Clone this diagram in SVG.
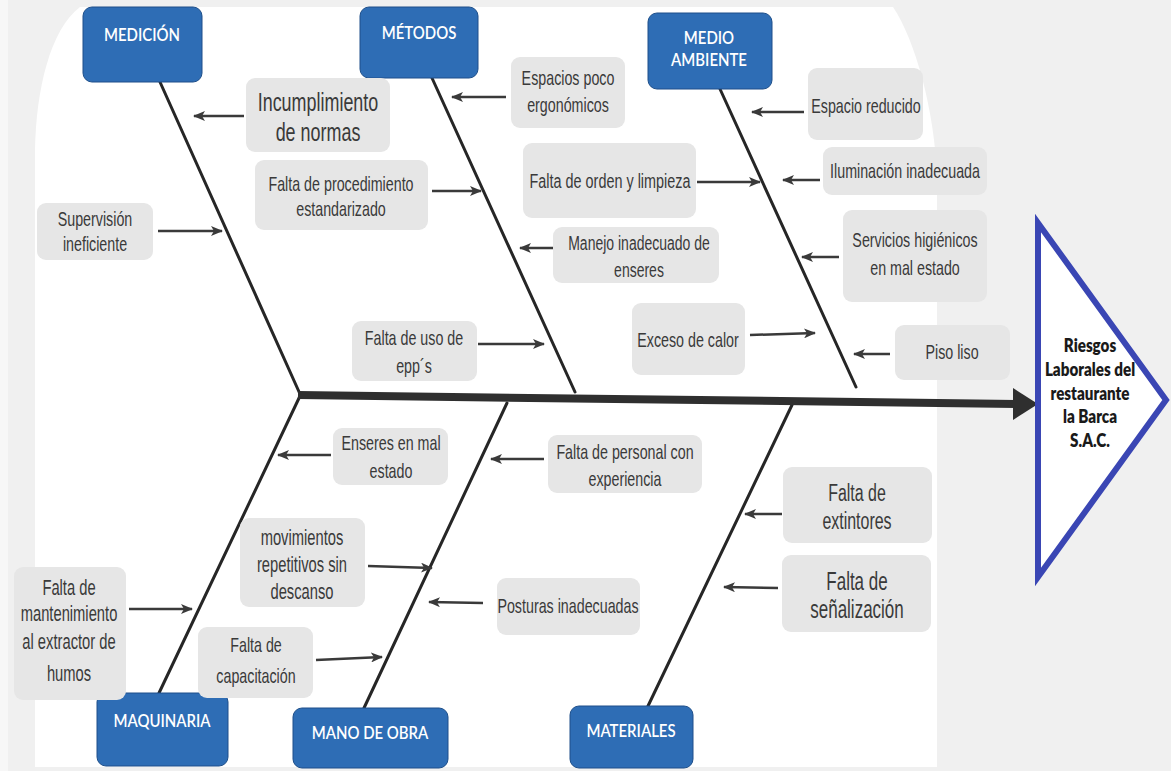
<svg xmlns="http://www.w3.org/2000/svg" width="1171" height="771" viewBox="0 0 1171 771">
<style>
.bg{fill:#f0f0f0}
.cat rect{fill:#2e6db5;stroke:#1e4f8a;stroke-width:1}
.cat text{font-family:Lato,"Open Sans","Liberation Sans",sans-serif;font-weight:600;font-size:18px;fill:#fff;text-anchor:middle}
.cz rect{fill:#e6e6e6}
.cz text{font-family:"Liberation Sans",Arial,sans-serif;font-size:21px;fill:#3a3a3a;text-anchor:middle}
.bone{stroke:#262626;stroke-width:3;fill:none;stroke-linecap:round}
.arr{stroke:#3a3a3a;stroke-width:2.5;fill:none;marker-end:url(#ah)}
.eff text{font-family:Lato,"Open Sans",sans-serif;font-weight:800;font-size:19px;fill:#1a1a1a;text-anchor:middle}
</style>
<defs>
<marker id="ah" markerUnits="userSpaceOnUse" markerWidth="12" markerHeight="10" viewBox="0 0 12 10" refX="11" refY="5" orient="auto">
<path d="M0,0 L12,5 L0,10 L3,5 Z" fill="#3a3a3a"/>
</marker>
</defs>
<rect class="bg" x="0" y="0" width="1171" height="771"/>
<rect x="0" y="0" width="8" height="771" fill="#f7f7f7"/>
<path d="M80 7 L893 7 C915 40 935 110 937 180 L937 767 L35 767 L35 150 C36 90 50 30 80 7 Z" fill="#ffffff"/>

<g id="connectors">
<line class="bone" x1="160" y1="82" x2="300" y2="394"/>
<line class="bone" x1="300" y1="396" x2="159" y2="693"/>
<line class="bone" x1="432" y1="78" x2="575" y2="392"/>
<line class="bone" x1="507" y1="403" x2="364" y2="708"/>
<line class="bone" x1="720" y1="89" x2="856" y2="387"/>
<line class="bone" x1="792" y1="405" x2="648" y2="706"/>
<line x1="298" y1="395" x2="1016" y2="404" stroke="#2f2f2f" stroke-width="8"/>
<polygon points="1013,388 1038,404 1013,420" fill="#2f2f2f"/>
<line class="arr" x1="244" y1="116" x2="194" y2="116"/>
<line class="arr" x1="158" y1="231" x2="222" y2="231"/>
<line class="arr" x1="432" y1="191" x2="481" y2="191"/>
<line class="arr" x1="506" y1="97" x2="452" y2="97"/>
<line class="arr" x1="697" y1="182" x2="760" y2="182"/>
<line class="arr" x1="557" y1="248" x2="520" y2="248"/>
<line class="arr" x1="478" y1="344" x2="544" y2="344"/>
<line class="arr" x1="750" y1="335" x2="815" y2="333"/>
<line class="arr" x1="804" y1="112" x2="752" y2="112"/>
<line class="arr" x1="820" y1="180" x2="783" y2="180"/>
<line class="arr" x1="839" y1="257" x2="802" y2="257"/>
<line class="arr" x1="890" y1="354" x2="854" y2="354"/>
<line class="arr" x1="331" y1="455" x2="278" y2="455"/>
<line class="arr" x1="544" y1="459" x2="491" y2="459"/>
<line class="arr" x1="368" y1="566" x2="432" y2="568"/>
<line class="arr" x1="483" y1="603" x2="429" y2="602"/>
<line class="arr" x1="129" y1="609" x2="192" y2="609"/>
<line class="arr" x1="316" y1="660" x2="382" y2="657"/>
<line class="arr" x1="782" y1="514" x2="745" y2="514"/>
<line class="arr" x1="778" y1="588" x2="724" y2="587"/>
</g>

<g id="medicion" class="cat"><rect x="83" y="7" width="119" height="75" rx="9"/><text transform="matrix(.83 0 0 1 142 0)" y="41">MEDICIÓN</text></g>
<g id="metodos" class="cat"><rect x="360" y="7" width="118" height="71" rx="9"/><text transform="matrix(.83 0 0 1 419 0)" y="39">MÉTODOS</text></g>
<g id="medio-ambiente" class="cat"><rect x="648" y="13" width="124" height="76" rx="9"/><text transform="matrix(.83 0 0 1 709 0)" y="44">MEDIO</text><text transform="matrix(.83 0 0 1 709 0)" y="66">AMBIENTE</text></g>
<g id="maquinaria" class="cat"><rect x="97" y="693" width="131" height="73" rx="9"/><text transform="matrix(.83 0 0 1 162 0)" y="727">MAQUINARIA</text></g>
<g id="mano-obra" class="cat"><rect x="293" y="708" width="155" height="60" rx="9"/><text transform="matrix(.83 0 0 1 370 0)" y="739">MANO DE OBRA</text></g>
<g id="materiales" class="cat"><rect x="570" y="706" width="123" height="62" rx="9"/><text transform="matrix(.83 0 0 1 631 0)" y="737">MATERIALES</text></g>

<g id="c-incumplimiento" class="cz"><rect x="246" y="78" width="144" height="74" rx="9"/><text style="font-size:26px" transform="matrix(.69 0 0 1 318 0)" y="111">Incumplimiento</text><text style="font-size:26px" transform="matrix(.69 0 0 1 318 0)" y="141">de normas</text></g>
<g id="c-supervision" class="cz"><rect x="37" y="203" width="116" height="57" rx="9"/><text transform="matrix(.68 0 0 1 95 0)" y="226">Supervisión</text><text transform="matrix(.68 0 0 1 95 0)" y="251">ineficiente</text></g>
<g id="c-procedimiento" class="cz"><rect x="255" y="160" width="173" height="70" rx="9"/><text transform="matrix(.68 0 0 1 341 0)" y="191">Falta de procedimiento</text><text transform="matrix(.68 0 0 1 341 0)" y="216">estandarizado</text></g>
<g id="c-espacios" class="cz"><rect x="511" y="57" width="114" height="71" rx="9"/><text transform="matrix(.68 0 0 1 568 0)" y="85">Espacios poco</text><text transform="matrix(.68 0 0 1 568 0)" y="112">ergonómicos</text></g>
<g id="c-orden" class="cz"><rect x="523" y="143" width="173" height="75" rx="9"/><text transform="matrix(.686 0 0 1 610 0)" y="188">Falta de orden y limpieza</text></g>
<g id="c-manejo" class="cz"><rect x="553" y="227" width="166" height="56" rx="9"/><text transform="matrix(.667 0 0 1 639 0)" y="250">Manejo inadecuado de</text><text transform="matrix(.667 0 0 1 639 0)" y="277">enseres</text></g>
<g id="c-epps" class="cz"><rect x="352" y="321" width="125" height="60" rx="9"/><text transform="matrix(.68 0 0 1 414 0)" y="345">Falta de uso de</text><text transform="matrix(.68 0 0 1 414 0)" y="373">epp´s</text></g>
<g id="c-calor" class="cz"><rect x="632" y="303" width="113" height="72" rx="9"/><text transform="matrix(.68 0 0 1 688 0)" y="347">Exceso de calor</text></g>
<g id="c-espacio-reducido" class="cz"><rect x="808" y="68" width="115" height="72" rx="9"/><text transform="matrix(.68 0 0 1 866 0)" y="113">Espacio reducido</text></g>
<g id="c-iluminacion" class="cz"><rect x="823" y="147" width="164" height="48" rx="9"/><text transform="matrix(.68 0 0 1 905 0)" y="178">Iluminación inadecuada</text></g>
<g id="c-servicios" class="cz"><rect x="843" y="210" width="144" height="92" rx="9"/><text transform="matrix(.68 0 0 1 915 0)" y="247">Servicios higiénicos</text><text transform="matrix(.68 0 0 1 915 0)" y="275">en mal estado</text></g>
<g id="c-piso" class="cz"><rect x="895" y="325" width="115" height="55" rx="9"/><text transform="matrix(.68 0 0 1 952 0)" y="359">Piso liso</text></g>
<g id="c-enseres" class="cz"><rect x="333" y="428" width="115" height="57" rx="9"/><text transform="matrix(.68 0 0 1 391 0)" y="450">Enseres en mal</text><text transform="matrix(.68 0 0 1 391 0)" y="478">estado</text></g>
<g id="c-personal" class="cz"><rect x="548" y="435" width="154" height="58" rx="9"/><text transform="matrix(.68 0 0 1 625 0)" y="459">Falta de personal con</text><text transform="matrix(.68 0 0 1 625 0)" y="486">experiencia</text></g>
<g id="c-movimientos" class="cz"><rect x="240" y="518" width="125" height="89" rx="9"/><text style="font-size:22px" transform="matrix(.67 0 0 1 302 0)" y="545">movimientos</text><text style="font-size:22px" transform="matrix(.67 0 0 1 302 0)" y="572">repetitivos sin</text><text style="font-size:22px" transform="matrix(.67 0 0 1 302 0)" y="599">descanso</text></g>
<g id="c-posturas" class="cz"><rect x="497" y="578" width="143" height="57" rx="9"/><text transform="matrix(.68 0 0 1 568 0)" y="613">Posturas inadecuadas</text></g>
<g id="c-mantenimiento" class="cz"><rect x="14" y="567" width="112" height="133" rx="9"/><text style="font-size:22px" transform="matrix(.67 0 0 1 69 0)" y="595">Falta de</text><text style="font-size:22px" transform="matrix(.67 0 0 1 69 0)" y="621">mantenimiento</text><text style="font-size:22px" transform="matrix(.67 0 0 1 69 0)" y="649">al extractor de</text><text style="font-size:22px" transform="matrix(.67 0 0 1 69 0)" y="681">humos</text></g>
<g id="c-capacitacion" class="cz"><rect x="198" y="627" width="115" height="71" rx="9"/><text transform="matrix(.68 0 0 1 256 0)" y="652">Falta de</text><text transform="matrix(.68 0 0 1 256 0)" y="683">capacitación</text></g>
<g id="c-extintores" class="cz"><rect x="783" y="467" width="149" height="76" rx="9"/><text style="font-size:23.5px" transform="matrix(.68 0 0 1 857 0)" y="501">Falta de</text><text style="font-size:23.5px" transform="matrix(.68 0 0 1 857 0)" y="529">extintores</text></g>
<g id="c-senalizacion" class="cz"><rect x="782" y="555" width="149" height="77" rx="9"/><text style="font-size:25px" transform="matrix(.68 0 0 1 857 0)" y="590">Falta de</text><text style="font-size:25px" transform="matrix(.68 0 0 1 857 0)" y="618">señalización</text></g>

<g id="efecto" class="eff">
<polygon points="1038,223 1166,400 1038,577" fill="#ffffff" stroke="#3a46b4" stroke-width="6" stroke-linejoin="miter"/>
<text transform="matrix(.8 0 0 1 1090 0)" y="352">Riesgos</text>
<text transform="matrix(.8 0 0 1 1090 0)" y="376">Laborales del</text>
<text transform="matrix(.8 0 0 1 1090 0)" y="400">restaurante</text>
<text transform="matrix(.8 0 0 1 1090 0)" y="423">la Barca</text>
<text transform="matrix(.8 0 0 1 1090 0)" y="447">S.A.C.</text>
</g>
</svg>
